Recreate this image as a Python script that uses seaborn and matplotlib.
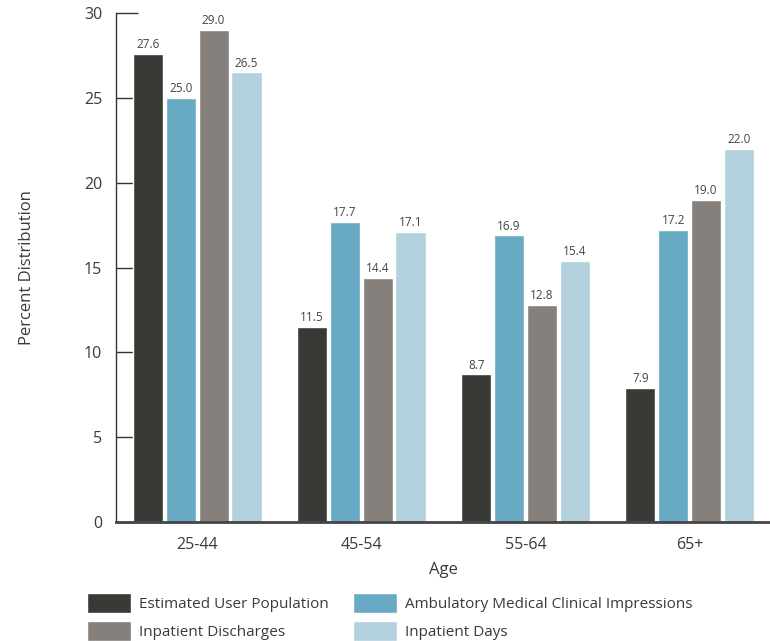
import numpy as np
import pandas as pd
import matplotlib
matplotlib.use("Agg")
import matplotlib.pyplot as plt
import seaborn as sns

# data
ages = ["25-44", "45-54", "55-64", "65+"]
series = ["Estimated User Population", "Ambulatory Medical Clinical Impressions",
          "Inpatient Discharges", "Inpatient Days"]
user_pop = [27.6, 11.5, 8.7, 7.9]
ambulatory = [25.0, 17.7, 16.9, 17.2]
discharges = [29.0, 14.4, 12.8, 19.0]
inpatient_days = [26.5, 17.1, 15.4, 22.0]
colors = ["#383a35", "#68aac3", "#85807c", "#b3d0dd"]

rows = []
for name, vals in zip(series, [user_pop, ambulatory, discharges, inpatient_days]):
    for age, v in zip(ages, vals):
        rows.append({"Age": age, "Series": name, "Value": v})
df = pd.DataFrame(rows)

sns.set_theme(style="white")
plt.rcParams["font.family"] = ["Open Sans", "DejaVu Sans"]
text_color = "#3a3a3a"

fig = plt.figure(figsize=(7.7, 6.41), dpi=100)
ax = fig.add_axes([0.1506, 0.1856, 0.8494, 0.7941])

sns.barplot(data=df, x="Age", y="Value", hue="Series", hue_order=series,
            palette=colors, width=0.8, gap=0.08, saturation=1, ax=ax)

for cont in ax.containers:
    ax.bar_label(cont, fmt="%.1f", padding=2, fontsize=8.5, color="#444444")

ax.set_ylim(0, 30)
ax.set_xlim(-0.495, 3.49)
ax.set_yticks([0, 5, 10, 15, 20, 25, 30])
ax.tick_params(axis="y", left=True, direction="in", length=16, width=1,
               color="#333333", labelsize=11.5, labelcolor=text_color, pad=10)
ax.tick_params(axis="x", length=0, labelsize=11.5, labelcolor=text_color, pad=11)
ax.set_xlabel("Age", fontsize=12, color=text_color, labelpad=6)
ax.set_ylabel("Percent Distribution", fontsize=12, color=text_color, labelpad=35)

for s in ["top", "right"]:
    ax.spines[s].set_visible(False)
ax.spines["left"].set_color("#333333")
ax.spines["left"].set_linewidth(1)
ax.spines["bottom"].set_color("#444444")
ax.spines["bottom"].set_linewidth(2)

handles, labels = ax.get_legend_handles_labels()
ax.get_legend().remove()
order = [0, 2, 1, 3]
leg = fig.legend([handles[i] for i in order], [labels[i] for i in order],
                 ncol=2, loc="lower left", bbox_to_anchor=(0.113, 0.0),
                 frameon=False, fontsize=11, handlelength=2.9, handleheight=1.65,
                 handletextpad=0.5, columnspacing=1.6, labelspacing=0.5,
                 borderaxespad=0, borderpad=0)
for t in leg.get_texts():
    t.set_color(text_color)

fig.savefig("out.png", dpi=100)
